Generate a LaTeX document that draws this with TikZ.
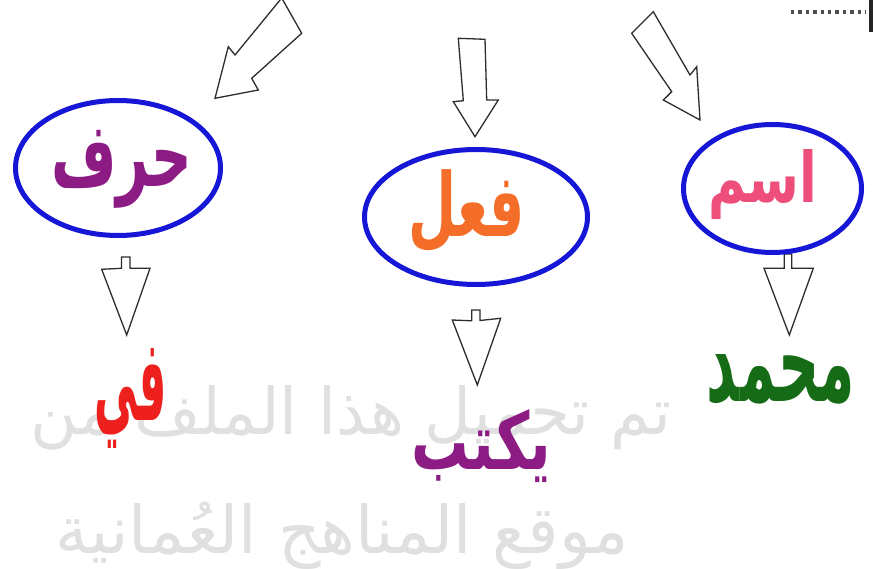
\documentclass[tikz,border=0pt]{standalone}
\usepackage{fontspec}
\usepackage{graphicx}
\usetikzlibrary{shapes.geometric}
\TeXXeTstate=1
\newfontfamily\arabicfont[Script=Arabic]{DejaVu Sans}
\definecolor{ringblue}{RGB}{22,22,215}
\definecolor{wpurple}{RGB}{140,28,132}
\definecolor{worange}{RGB}{244,110,42}
\definecolor{wpink}{RGB}{238,78,122}
\definecolor{wred}{RGB}{238,32,30}
\definecolor{wgreen}{RGB}{22,108,22}
\definecolor{wmgray}{RGB}{224,224,224}
\definecolor{arrowline}{RGB}{45,45,45}
\tikzset{
  ring/.style={draw=ringblue, line width=5pt, ellipse, inner sep=0pt},
  word/.style={inner sep=0pt, font=\arabicfont\bfseries},
  wmark/.style={inner sep=0pt, text=wmgray, font=\arabicfont},
  blockarrow/.style={draw=arrowline, fill=white, line width=1.3pt, line join=miter},
}
\begin{document}
\begin{tikzpicture}[x=1pt,y=-1pt]
\useasboundingbox (0,0) rectangle (873,569);
\clip (0,0) rectangle (873,569);
\fill[white] (0,0) rectangle (873,569);

% watermark
\node[wmark] (wm1) at (351,418) {\resizebox{640pt}{!}{\beginR تم تحميل هذا الملف من\endR}};
\node[wmark] (wm2) at (342,536) {\resizebox{573pt}{!}{\beginR موقع المناهج العُمانية\endR}};

% top-right decoration
\draw[line width=4pt, dash pattern=on 3.4pt off 4pt, draw=black!70] (791,12) -- (866,12);
\fill[black!85] (869,0) rectangle (873,32);

% big arrows at top
\draw[blockarrow] (281.7,-2) -- (301.7,33.3) -- (251.7,78.3) -- (258.3,90) -- (215,98.3) -- (228.3,46.7) -- (235,55) -- cycle;
\draw[blockarrow] (458.3,38.3) -- (485,39.3) -- (486.7,100) -- (498.3,100) -- (475,136.7) -- (453.3,101.7) -- (463.3,100.7) -- cycle;
\draw[blockarrow] (653.3,11.7) -- (631.7,33.3) -- (671.7,91.7) -- (663.3,100) -- (700,120) -- (696.7,66.7) -- (690,75) -- cycle;

% small arrows below ellipses
\draw[blockarrow] (121.5,257) -- (130,257) -- (130,268.3) -- (150,268.3) -- (126.7,335) -- (101.7,269.3) -- (121.5,268.3) -- cycle;
\draw[blockarrow] (471.7,310) -- (480,310) -- (480,320.5) -- (500.7,318.3) -- (477.3,385) -- (452.3,320) -- (471.7,320.8) -- cycle;
\draw[blockarrow] (784.3,254) -- (791.7,254) -- (791.7,268.3) -- (813.3,268.3) -- (789.3,335) -- (764,268.3) -- (784.3,268.3) -- cycle;

% ellipses
\node[ring, minimum width=205pt, minimum height=135pt] (harf) at (118,168) {};
\node[ring, minimum width=223pt, minimum height=135pt] (fiel) at (476,217) {};
\node[ring, minimum width=178pt, minimum height=128pt] (ism) at (772.5,188.5) {};

% words in ellipses
\node[word, text=wpurple] (tharf) at (122,169) {\resizebox*{141pt}{78pt}{\beginR حرف\endR}};
\node[word, text=worange] (tfiel) at (466.5,211.5) {\resizebox*{117pt}{83pt}{\beginR فعل\endR}};
\node[word, text=wpink] (tism) at (762.5,185) {\resizebox*{109pt}{70pt}{\beginR اسم\endR}};

% example words
\node[word, text=wred] (fi) at (131,398) {\resizebox*{72pt}{100pt}{\beginR في\endR}};
\node[word, text=wpurple] (yaktub) at (481.5,446.5) {\resizebox*{139pt}{73pt}{\beginR يكتب\endR}};
\node[word, text=wgreen] (muhammad) at (781,380) {\resizebox*{148pt}{50pt}{\beginR محمد\endR}};
\end{tikzpicture}
\end{document}
